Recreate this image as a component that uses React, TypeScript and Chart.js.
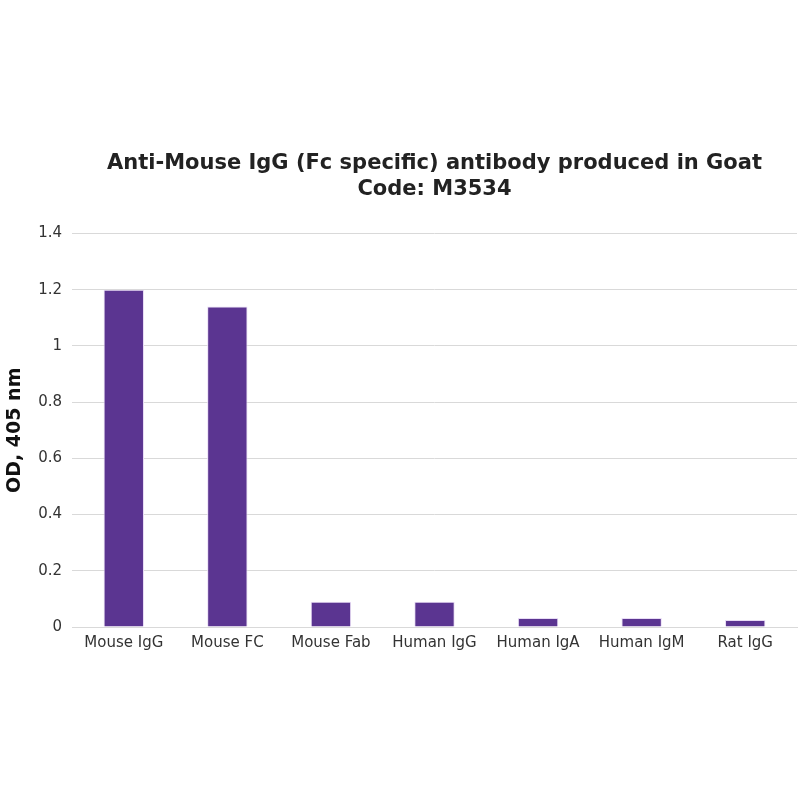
import React, { useEffect, useRef } from "react";
import { Chart, registerables } from "chart.js";

Chart.register(...registerables);

const categories = ["Mouse IgG", "Mouse FC", "Mouse Fab", "Human IgG", "Human IgA", "Human IgM", "Rat IgG"];
const odValues = [1.2, 1.14, 0.09, 0.09, 0.032, 0.032, 0.025];
const titleLines = ["Anti-Mouse IgG (Fc specific) antibody produced in Goat", "Code: M3534"];
const yAxisTitle = "OD, 405 nm";

export default function App() {
  const ref = useRef<HTMLCanvasElement | null>(null);
  useEffect(() => {
    document.body.style.margin = "0";
    const ctx = ref.current!;
    const chart = new Chart(ctx, {
      type: "bar",
      data: {
        labels: categories,
        datasets: [
          {
            data: odValues,
            backgroundColor: "#5b3591",
            borderColor: "#e8dcf5",
            borderWidth: { left: 1, right: 1, top: 1, bottom: 0 },
            categoryPercentage: 1,
            barPercentage: 0.39,
          },
        ],
      },
      options: {
        responsive: false,
        animation: false,
        layout: { padding: { top: 150, right: 3, bottom: 149, left: 0 } },
        plugins: {
          legend: { display: false },
          tooltip: { enabled: false },
          title: {
            display: true,
            text: titleLines,
            fullSize: false,
            color: "#222",
            font: { family: "'DejaVu Sans', Verdana, sans-serif", size: 21, weight: "bold", lineHeight: 1.25 },
            padding: { top: 0, bottom: 31 },
          },
        },
        scales: {
          x: {
            grid: { display: false },
            border: { color: "#d9d9d9", width: 1 },
            ticks: {
              color: "#333",
              font: { family: "'DejaVu Sans', Verdana, sans-serif", size: 15 },
              maxRotation: 0,
              autoSkip: false,
              padding: -1,
            },
          },
          y: {
            min: 0,
            max: 1.4,
            ticks: {
              stepSize: 0.2,
              color: "#333",
              padding: 10,
              font: { family: "'DejaVu Sans', Verdana, sans-serif", size: 15 },
              callback: (v: any) => String(Math.round(Number(v) * 10) / 10),
            },
            grid: { color: "#d9d9d9", drawTicks: false },
            border: { display: false },
            title: {
              display: true,
              text: yAxisTitle,
              color: "#111",
              font: { family: "'DejaVu Sans', Verdana, sans-serif", size: 19, weight: "bold" },
              padding: { top: 4, bottom: 0 },
            },
            afterFit: (scale: any) => {
              scale.width = 72;
            },
          },
        },
      },
    });
    return () => chart.destroy();
  }, []);
  return (
    <div style={{ width: 800, height: 800, background: "#fff" }}>
      <canvas ref={ref} width={800} height={800} style={{ display: "block" }} />
    </div>
  );
}
